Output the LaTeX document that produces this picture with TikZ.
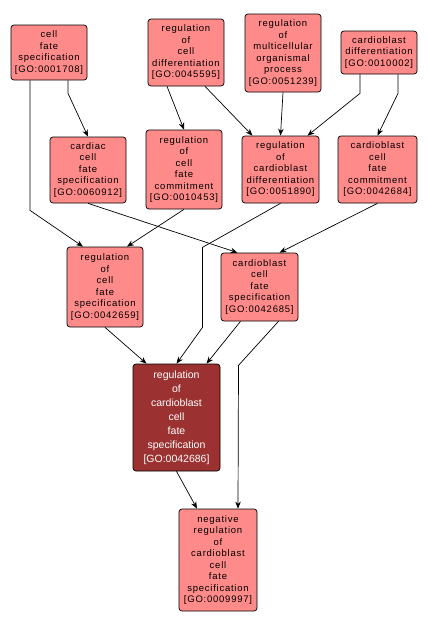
\documentclass[tikz,border=0pt]{standalone}
\usepackage{fontspec}
\setmainfont{Liberation Sans}
\usetikzlibrary{arrows.meta}
\definecolor{termfill}{HTML}{FF8A8A}
\definecolor{focusfill}{HTML}{9B3131}

\begin{document}
\begin{tikzpicture}[>={Stealth[length=7pt,width=5.5pt]},x=1pt,y=-1pt,
    term/.style={draw,rectangle,rounded corners=3pt,fill=termfill,line width=0.7pt,align=center,inner sep=1pt,minimum width=76pt,
        font=\fontsize{9.5}{11.5}\selectfont\addfontfeature{LetterSpace=8}},
    focus/.style={term,fill=focusfill,text=white,minimum width=87pt,font=\fontsize{10.5}{14}\selectfont},
    link/.style={->,line width=0.7pt}]
            \useasboundingbox (0,0) rectangle (428,627);
            % top row
            \node [term,minimum height=55pt] (n1708) at (49,52.5) {cell\\fate\\specification\\{}[GO:0001708]};
            \node [term,minimum height=67pt] (n45595) at (186,52.5) {regulation\\of\\cell\\differentiation\\{}[GO:0045595]};
            \node [term,minimum height=78pt] (n51239) at (283,53) {regulation\\of\\multicellular\\organismal\\process\\{}[GO:0051239]};
            \node [term,minimum height=43pt] (n10002) at (379,52.5) {cardioblast\\differentiation\\{}[GO:0010002]};
            % second row
            \node [term,minimum height=66pt] (n60912) at (88,170) {cardiac\\cell\\fate\\specification\\{}[GO:0060912]};
            \node [term,minimum height=79pt] (n10453) at (184,169.5) {regulation\\of\\cell\\fate\\commitment\\{}[GO:0010453]};
            \node [term,minimum height=67pt,minimum width=77pt] (n51890) at (280.5,169.5) {regulation\\of\\cardioblast\\differentiation\\{}[GO:0051890]};
            \node [term,minimum height=67pt,minimum width=79pt] (n42684) at (377.5,169.5) {cardioblast\\cell\\fate\\commitment\\{}[GO:0042684]};
            % third row
            \node [term,minimum height=80pt] (n42659) at (105,287) {regulation\\of\\cell\\fate\\specification\\{}[GO:0042659]};
            \node [term,minimum height=68pt,minimum width=77pt] (n42685) at (259.5,287) {cardioblast\\cell\\fate\\specification\\{}[GO:0042685]};
            % focus term and child
            \node [focus,minimum height=107pt] (n42686) at (176.5,417.5) {regulation\\of\\cardioblast\\cell\\fate\\specification\\{}[GO:0042686]};
            \node [term,minimum height=102pt,minimum width=78pt] (n9997) at (218,560) {negative\\regulation\\of\\cardioblast\\cell\\fate\\specification\\{}[GO:0009997]};
            % links
            \draw [link] ([xshift=19pt]n1708.south) -- ++(0,13) -- (n60912.north);
            \draw [link] ([xshift=-19pt]n1708.south) -- ++(0,130) -- ([xshift=-22pt]n42659.north);
            \draw [link] ([xshift=-19pt]n45595.south) -- (n10453.north);
            \draw [link] ([xshift=19pt]n45595.south) -- ([xshift=-28pt]n51890.north);
            \draw [link] (n51239.south) -- (n51890.north);
            \draw [link] ([xshift=-19pt]n10002.south) -- ++(0,19) -- ([xshift=27pt]n51890.north);
            \draw [link] ([xshift=19pt]n10002.south) -- ++(0,19) -- (n42684.north);
            \draw [link] (n60912.south) -- ([xshift=-22pt]n42685.north);
            \draw [link] (n10453.south) -- ([xshift=22pt]n42659.north);
            \draw [link] (n51890.south) -- ++(-78,44) -- ++(0,80) -- (n42686.north);
            \draw [link] (n42684.south) -- ([xshift=20pt]n42685.north);
            \draw [link] (n42659.south) -- ([xshift=-30pt]n42686.north);
            \draw [link] ([xshift=-19pt]n42685.south) -- ([xshift=30pt]n42686.north);
            \draw [link] ([xshift=19pt]n42685.south) -- ++(-40,44) -- ([xshift=20pt]n9997.north);
            \draw [link] (n42686.south) -- ([xshift=-21pt]n9997.north);
\end{tikzpicture}
\end{document}
